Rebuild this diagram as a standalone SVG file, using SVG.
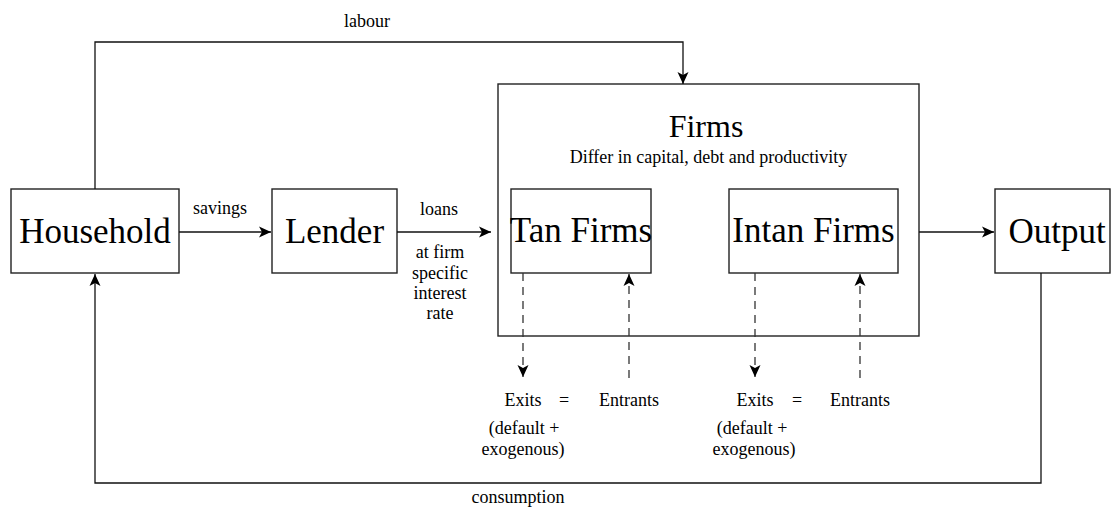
<svg xmlns="http://www.w3.org/2000/svg" width="1112" height="511" viewBox="0 0 1112 511">
<style>
.box{fill:#fff;stroke:#222;stroke-width:1.4}
.ln{fill:none;stroke:#111;stroke-width:1.3}
.dash{fill:none;stroke:#333;stroke-width:1.3;stroke-dasharray:8 6}
text{font-family:"Liberation Serif","Times New Roman",serif;fill:#000;text-anchor:middle}
.big{font-size:35px}
.sm{font-size:18px}
</style>
<defs>
<marker id="ah" markerUnits="userSpaceOnUse" markerWidth="14" markerHeight="12" viewBox="0 0 14 12" refX="12" refY="6" orient="auto">
<path d="M0,0.5 L12,6 L0,11.5 L3,6 Z" fill="#000"/>
</marker>
</defs>
<g id="firms">
<rect class="box" x="498" y="84" width="421" height="252"/>
<text x="706" y="137" style="font-size:32px">Firms</text>
<text class="sm" x="708.5" y="163">Differ in capital, debt and productivity</text>
</g>
<g id="household">
<rect class="box" x="11" y="189" width="168" height="84"/>
<text class="big" x="95" y="243">Household</text>
</g>
<g id="lender">
<rect class="box" x="272" y="189" width="125" height="84"/>
<text class="big" x="334.5" y="243">Lender</text>
</g>
<g id="tan-firms">
<rect class="box" x="511" y="189" width="140" height="84"/>
<text class="big" x="581" y="242">Tan Firms</text>
</g>
<g id="intan-firms">
<rect class="box" x="729" y="189" width="169" height="84"/>
<text class="big" x="813.5" y="242">Intan Firms</text>
</g>
<g id="output">
<rect class="box" x="995" y="189" width="115" height="84"/>
<text class="big" x="1057" y="243">Output</text>
</g>
<g id="tan-flows">
<text class="sm" x="523" y="406">Exits</text>
<text class="sm" x="564" y="406">=</text>
<text class="sm" x="629" y="406">Entrants</text>
<text class="sm" x="524" y="434">(default +</text>
<text class="sm" x="523" y="455">exogenous)</text>
</g>
<g id="intan-flows">
<text class="sm" x="755" y="406">Exits</text>
<text class="sm" x="797" y="406">=</text>
<text class="sm" x="860" y="406">Entrants</text>
<text class="sm" x="752" y="434">(default +</text>
<text class="sm" x="754" y="455">exogenous)</text>
</g>
<g id="connectors">
<path class="ln" d="M95,189 V42 H683 V84" marker-end="url(#ah)"/>
<path class="ln" d="M179,232 H271" marker-end="url(#ah)"/>
<path class="ln" d="M397,232 H491" marker-end="url(#ah)"/>
<path class="ln" d="M919,232 H994" marker-end="url(#ah)"/>
<path class="ln" d="M1041,273 V483 H95 V274" marker-end="url(#ah)"/>
<path class="dash" d="M523,273 V377" marker-end="url(#ah)"/>
<path class="dash" d="M629,378 V274" marker-end="url(#ah)"/>
<path class="dash" d="M755,273 V377" marker-end="url(#ah)"/>
<path class="dash" d="M860,378 V274" marker-end="url(#ah)"/>
<text class="sm" x="367" y="27">labour</text>
<text class="sm" x="220" y="214">savings</text>
<text class="sm" x="439" y="215">loans</text>
<text class="sm" x="440" y="258">at firm</text>
<text class="sm" x="440" y="279">specific</text>
<text class="sm" x="440" y="299">interest</text>
<text class="sm" x="440" y="319">rate</text>
<text class="sm" x="518" y="503">consumption</text>
</g>
</svg>
